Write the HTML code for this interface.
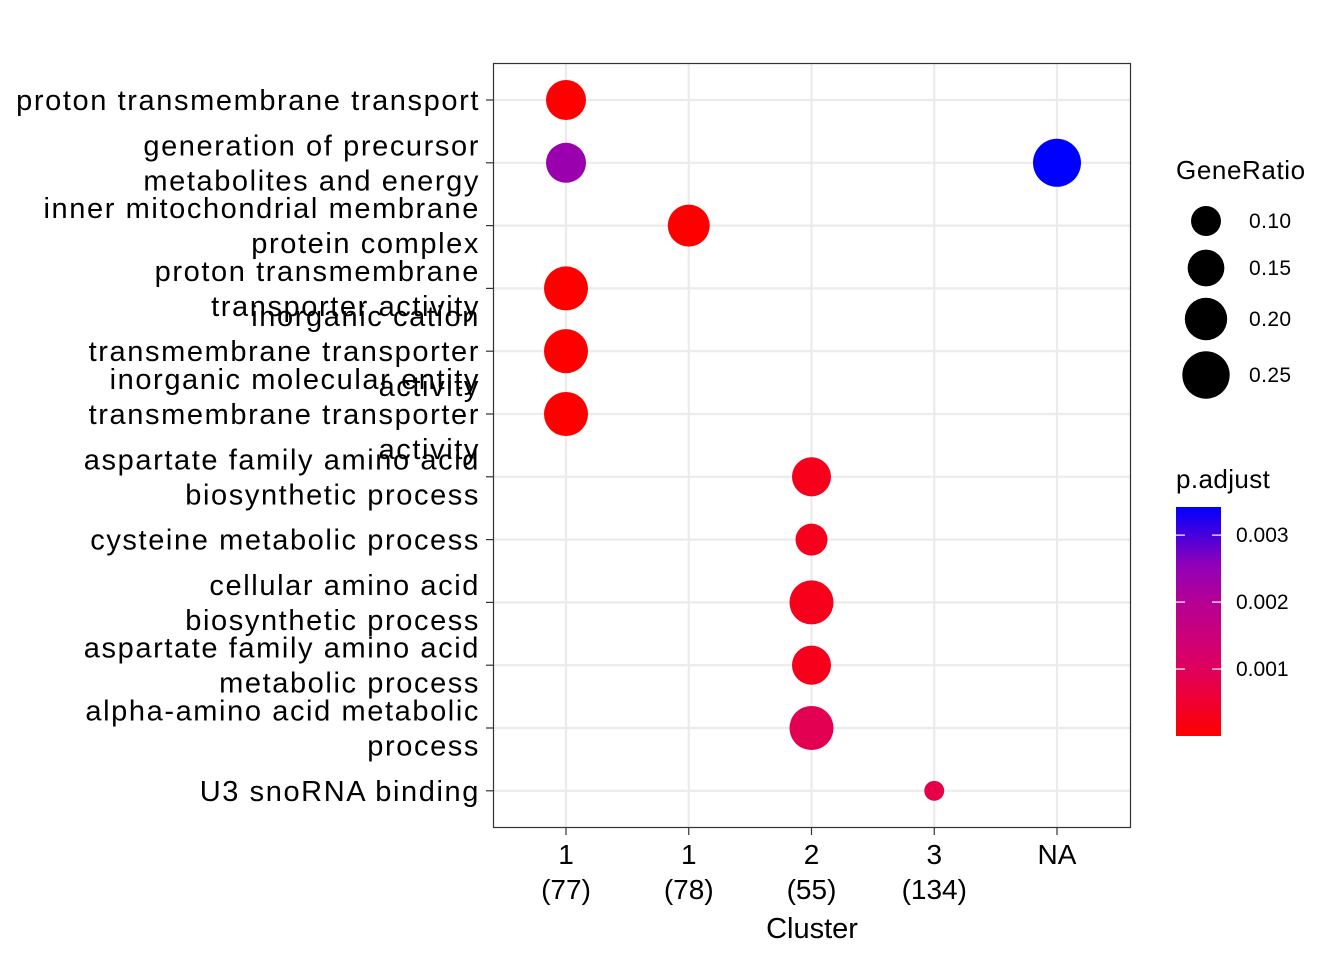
<!DOCTYPE html>
<html><head><meta charset="utf-8"><style>
html,body{margin:0;padding:0;background:#fff}
svg text{font-family:"Liberation Sans",Arial,sans-serif;fill:#000}
</style></head><body>
<svg id="chart" width="1344" height="960" viewBox="0 0 1344 960" xmlns="http://www.w3.org/2000/svg">
<defs>
<linearGradient id="cbar" x1="0" y1="1" x2="0" y2="0">
<stop offset="0" stop-color="#ff0000"/>
<stop offset="0.29" stop-color="#e0005c"/>
<stop offset="0.59" stop-color="#b40096"/>
<stop offset="0.75" stop-color="#9000b8"/>
<stop offset="1" stop-color="#0000ff"/>
</linearGradient>
</defs>
<rect x="0" y="0" width="1344" height="960" fill="#fff"/>
<g id="grid"></g>
<g id="points"></g>
<rect x="493.5" y="63.5" width="637" height="764" fill="none" stroke="#333" stroke-width="1.2"/>
<g id="yaxis"></g>
<g id="xaxis"></g>
<text x="812" y="938" font-size="29" text-anchor="middle">Cluster</text>
<g id="legend-size">
<text x="1176" y="179" font-size="26" letter-spacing="0.6">GeneRatio</text>
</g>
<g id="legend-color">
<text x="1176" y="488" font-size="26" letter-spacing="0.4">p.adjust</text>
<rect x="1176" y="507" width="45" height="229" fill="url(#cbar)"/>
</g>
</svg>
<script>
const terms = [
  ["proton transmembrane transport"],
  ["generation of precursor","metabolites and energy"],
  ["inner mitochondrial membrane","protein complex"],
  ["proton transmembrane","transporter activity"],
  ["inorganic cation","transmembrane transporter","activity"],
  ["inorganic molecular entity","transmembrane transporter","activity"],
  ["aspartate family amino acid","biosynthetic process"],
  ["cysteine metabolic process"],
  ["cellular amino acid","biosynthetic process"],
  ["aspartate family amino acid","metabolic process"],
  ["alpha-amino acid metabolic","process"],
  ["U3 snoRNA binding"]
];
const clusters = [["1","(77)"],["1","(78)"],["2","(55)"],["3","(134)"],["NA",""]];
const pointTerm = [0,1,1,2,3,4,5,6,7,8,9,10,11];
const pointCluster = [0,0,4,1,0,0,0,2,2,2,2,2,3];
const geneRatio = [0.189,0.189,0.272,0.208,0.229,0.229,0.229,0.18,0.121,0.229,0.18,0.229,0.047];
const pAdjust = [0.00001,0.0024,0.00342,0.00001,0.00001,0.00001,0.00001,0.0003,0.0003,0.0003,0.0003,0.0009,0.0008];
const sizeBreaks = [0.10,0.15,0.20,0.25];
const sizeLabels = ["0.10","0.15","0.20","0.25"];
const colorTicks = [0.001,0.002,0.003];
const colorTickLabels = ["0.001","0.002","0.003"];

const NS="http://www.w3.org/2000/svg";
function mk(tag,attrs,parent){const e=document.createElementNS(NS,tag);for(const k in attrs)e.setAttribute(k,attrs[k]);parent.appendChild(e);return e;}
const xPos = i => 566 + i*122.75;
const yPos = i => 100 + i*62.8;
const rSize = g => 46*Math.sqrt(g);
const pMax = 0.00342;
const yCol = p => 736 - (p/pMax)*229;
const stops=[[0,[255,0,0]],[0.29,[224,0,92]],[0.59,[180,0,150]],[0.75,[144,0,184]],[1,[0,0,255]]];
function colorOf(p){let t=Math.max(0,Math.min(1,p/pMax));for(let i=1;i<stops.length;i++){if(t<=stops[i][0]){const a=stops[i-1],b=stops[i];const f=(t-a[0])/(b[0]-a[0]);const c=a[1].map((v,k)=>Math.round(v+(b[1][k]-v)*f));return `rgb(${c.join(',')})`;}}return "rgb(0,0,255)";}

const grid=document.getElementById('grid');
terms.forEach((t,i)=>{const l=mk('line',{x1:493,x2:1131,y1:yPos(i),y2:yPos(i),stroke:'#ebebeb','stroke-width':2.2},grid);

});
clusters.forEach((c,i)=>{const l=mk('line',{x1:xPos(i),x2:xPos(i),y1:63,y2:828,stroke:'#ebebeb','stroke-width':2.2},grid);

});

const pts=document.getElementById('points');
pointTerm.forEach((t,i)=>{const c=mk('circle',{cx:xPos(pointCluster[i]),cy:yPos(t),r:rSize(geneRatio[i]),fill:colorOf(pAdjust[i])},pts);

});

const ya=document.getElementById('yaxis');
terms.forEach((lines,i)=>{const y=yPos(i);
const tk=mk('line',{x1:486,x2:493,y1:y,y2:y,stroke:'#333','stroke-width':1.2},ya);


const n=lines.length;
lines.forEach((s,j)=>{const ty=y+(j-(n-1)/2)*35+10;
const tx=mk('text',{x:480,y:ty,'font-size':29,'text-anchor':'end','letter-spacing':'1.6'},ya);
tx.textContent=s;

});});

const xa=document.getElementById('xaxis');
clusters.forEach((c,i)=>{const x=xPos(i);
const tk=mk('line',{x1:x,x2:x,y1:828,y2:835,stroke:'#333','stroke-width':1.2},xa);


c.forEach((s,j)=>{if(!s)return;const tx=mk('text',{x:x,y:864+j*35,'font-size':28,'text-anchor':'middle'},xa);
tx.textContent=s;

});});

const ls=document.getElementById('legend-size');
const legY=[221,268,319,375];
sizeBreaks.forEach((g,i)=>{const c=mk('circle',{cx:1206,cy:legY[i],r:rSize(g)*1.03,fill:'#000'},ls);


const t=mk('text',{x:1249,y:legY[i]+7,'font-size':21,'letter-spacing':'0.4'},ls);
t.textContent=sizeLabels[i];

});

const lc=document.getElementById('legend-color');
colorTicks.forEach((p,i)=>{const y=yCol(p);
const a=mk('line',{x1:1176,x2:1185,y1:y,y2:y,stroke:'#fff','stroke-width':1.2},lc);


const b=mk('line',{x1:1212,x2:1221,y1:y,y2:y,stroke:'#fff','stroke-width':1.2},lc);


const t=mk('text',{x:1236,y:y+7,'font-size':21},lc);
t.textContent=colorTickLabels[i];

});
</script>
</body></html>
